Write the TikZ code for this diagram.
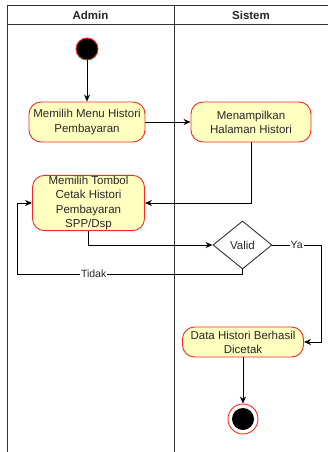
\documentclass[tikz,border=0pt]{standalone}
\usepackage{fontspec}
\setmainfont{Liberation Sans}
\usetikzlibrary{arrows.meta, shapes.geometric, positioning}
\definecolor{ActFill}{RGB}{255,255,192}
\definecolor{ActLine}{RGB}{245,40,40}
\definecolor{LaneGray}{RGB}{51,51,51}
\definecolor{TextGray}{RGB}{40,40,40}

\begin{document}
\begin{tikzpicture}[x=1pt, y=-1pt, >={Stealth[length=7pt, width=6pt]}, line width=0.9pt,
	font=\fontsize{11.5}{14.2}\selectfont, text=TextGray,
	action/.style={rectangle, rounded corners=12pt, draw=ActLine, fill=ActFill, align=center, inner sep=1pt},
	decision/.style={diamond, draw=LaneGray, fill=white, inner sep=0pt, minimum width=59pt, minimum height=48pt},
	lbl/.style={fill=white, inner sep=1pt, font=\fontsize{10.5}{12}\selectfont}]
	\useasboundingbox (0,0) rectangle (328,452);
	\clip (0,0) rectangle (328,452);
	% swimlane
	\draw[LaneGray] (7,470) |- (340,5);
	\draw[LaneGray] (7,24) -- (340,24);
	\draw[LaneGray] (174,5) -- (174,470);
	\node[font=\bfseries\fontsize{11.5}{13.6}\selectfont] (laneA) at (90.5,15) {Admin};
	\node[font=\bfseries\fontsize{11.5}{13.6}\selectfont] (laneS) at (251,15) {Sistem};
	% node aktivitas
	\node[circle, draw=ActLine, fill=black, minimum size=22pt, inner sep=0pt] (start) at (87,49) {};
	\node[action, minimum width=116pt, minimum height=40pt] (act1) at (87,122) {Memilih Menu Histori\\Pembayaran};
	\node[action, minimum width=120pt, minimum height=40pt] (act2) at (251,122) {Menampilkan\\Halaman Histori};
	\node[action, minimum width=112pt, minimum height=54pt] (act3) at (88.5,203) {Memilih Tombol\\Cetak Histori\\Pembayaran\\SPP/Dsp};
	\node[decision] (valid) at (242.5,245) {Valid};
	\node[action, minimum width=121pt, minimum height=30pt] (act4) at (243,342) {Data Histori Berhasil\\Dicetak};
	\node[circle, draw=ActLine, fill=white, minimum size=30pt, inner sep=0pt] (endout) at (243,419) {};
	\node[circle, fill=black, minimum size=22pt, inner sep=0pt] (endin) at (endout) {};
	\coordinate (yaturn) at (321,245);
	\coordinate (tdkturn) at (17,274);
	% alur
	\draw[->] (start) -- (act1);
	\draw[->] (act1) -- (act2);
	\draw[->] (act2.south) |- (act3.east);
	\draw[->] (act3.south) |- (valid.west);
	\draw[->] (valid.east) -- node[lbl] {Ya} (yaturn) |- (act4.east);
	\draw[->] (valid.south) |- node[lbl, pos=0.83] {Tidak} (tdkturn) |- (act3.west);
	\draw[->] (act4) -- (endout);
\end{tikzpicture}
\end{document}
